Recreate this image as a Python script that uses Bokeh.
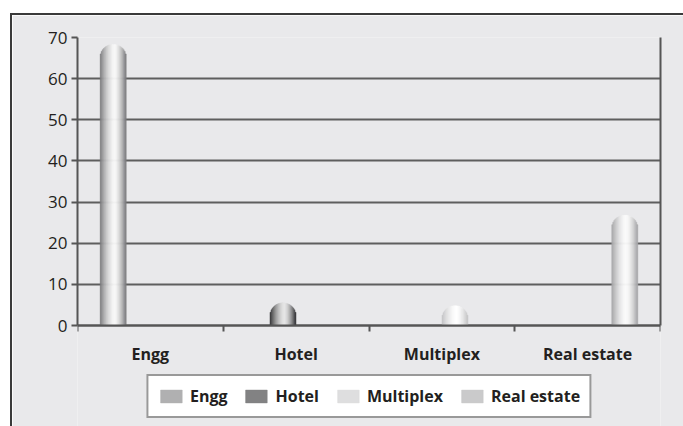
import numpy as np
from bokeh.plotting import figure
from bokeh.models import (ColumnDataSource, Range1d, FixedTicker, LinearAxis,
                          Legend, LegendItem)
from bokeh.embed import file_html
from bokeh.resources import INLINE

# ---------------- data ----------------
categories = ["Engg", "Hotel", "Multiplex", "Real estate"]
series = ["Engg", "Hotel", "Multiplex", "Real estate"]
values = [68.3, 5.5, 4.8, 26.8]          # one value per series, in its own category
y_ticks = [0, 10, 20, 30, 40, 50, 60, 70]

# ---------------- style ----------------
edge_rgb = [(118, 118, 120), (50, 50, 52), (196, 196, 198), (162, 162, 164)]
high_rgb = [(248, 248, 248), (230, 230, 230), (255, 255, 255), (252, 252, 252)]
dodge = [-0.255, -0.09, 0.09, 0.255]
BAR_W = 0.178
N_STRIPES = 26
HIGHLIGHT = 0.56
FRAME_W = 583          # plot-area width (px)
AXIS_H = 288           # height of the 0..70 value area (px)
BELOW_H = 101          # space under the value area that holds labels and legend (px)
Y_MAX = 70
BG = "#e9e9eb"
AXIS_COL = "#555555"
TXT = "#231f20"
FONT = "Open Sans"

px_x = FRAME_W / len(categories)
px_y = AXIS_H / Y_MAX
Y_MIN = -BELOW_H / px_y               # extend frame below zero to host labels + legend
r_y = (BAR_W / 2) * px_x / px_y       # cap radius in y units (round cap)


def shade(j, t):
    h = HIGHLIGHT
    d = (t - h) / (h if t < h else (1 - h))
    f = 1 - abs(d) ** 1.6
    e, hi = edge_rgb[j], high_rgb[j]
    c = [int(round(e[k] + (hi[k] - e[k]) * f)) for k in range(3)]
    return "#%02x%02x%02x" % tuple(c)


xs, tops, cols, legend_idx = [], [], [], []
for j, name in enumerate(series):
    ci = categories.index(name)
    cx = ci + 0.5 + dodge[j]
    v = values[j]
    for k in range(N_STRIPES):
        t = (k + 0.5) / N_STRIPES
        dx = 2 * t - 1
        if k == int(N_STRIPES * 0.18):
            legend_idx.append(len(xs))
        xs.append(cx + (t - 0.5) * BAR_W)
        tops.append(v - r_y + r_y * np.sqrt(max(0.0, 1 - dx * dx)))
        cols.append(shade(j, t))

src = ColumnDataSource(dict(x=xs, top=tops, color=cols))

p = figure(frame_width=FRAME_W, frame_height=AXIS_H + BELOW_H,
           x_range=Range1d(0, len(categories)), y_range=Range1d(Y_MIN, Y_MAX),
           output_backend="svg", toolbar_location=None,
           min_border_left=65, min_border_right=23, min_border_top=22,
           min_border_bottom=0, margin=(13, 0, 0, 10),
           styles={"border-top": "2px solid #3a3a3a", "border-left": "2px solid #3a3a3a"})
p.background_fill_color = BG
p.border_fill_color = BG
p.outline_line_color = None

r = p.vbar(x="x", top="top", bottom=0, width=BAR_W / N_STRIPES * 1.05, source=src,
           fill_color="color", line_color="color", line_width=0.5)

# y axis
p.yaxis.ticker = FixedTicker(ticks=y_ticks)
p.yaxis.bounds = (0, Y_MAX)
p.yaxis.major_tick_out = 6
p.yaxis.major_tick_in = 0
p.yaxis.minor_tick_out = 0
p.yaxis.axis_line_color = AXIS_COL
p.yaxis.axis_line_width = 2
p.yaxis.major_tick_line_color = AXIS_COL
p.yaxis.major_tick_line_width = 2
p.yaxis.major_label_text_font = FONT
p.yaxis.major_label_text_font_size = "17px"
p.yaxis.major_label_text_color = TXT
p.yaxis.major_label_standoff = 4

# grid
p.xgrid.visible = False
p.ygrid.ticker = FixedTicker(ticks=y_ticks[:-1])
p.ygrid.grid_line_color = "#5e5e5e"
p.ygrid.grid_line_width = 2

# x axis at y=0: boundary ticks as minor ticks, labels at category centres
centres = [i + 0.5 for i in range(len(categories))]
p.xaxis.fixed_location = 0
p.xaxis.ticker = FixedTicker(ticks=centres, minor_ticks=list(range(len(categories) + 1)))
p.xaxis.major_label_overrides = {c: n for c, n in zip(centres, categories)}
p.xaxis.major_tick_out = 0
p.xaxis.major_tick_in = 0
p.xaxis.minor_tick_out = 6
p.xaxis.minor_tick_in = 0
p.xaxis.minor_tick_line_color = AXIS_COL
p.xaxis.minor_tick_line_width = 2
p.xaxis.axis_line_color = AXIS_COL
p.xaxis.axis_line_width = 2
p.xaxis.major_label_text_font = FONT
p.xaxis.major_label_text_font_style = "bold"
p.xaxis.major_label_text_font_size = "16px"
p.xaxis.major_label_text_color = TXT
p.xaxis.major_label_standoff = 11

# right frame line
ra = LinearAxis(ticker=FixedTicker(ticks=[]), axis_line_color=AXIS_COL, axis_line_width=2,
                major_label_text_font_size="0px", major_tick_out=0, minor_tick_out=0,
                bounds=(0, Y_MAX))
p.add_layout(ra, "right")

# legend
items = [LegendItem(label=n, renderers=[r], index=legend_idx[j]) for j, n in enumerate(series)]
leg = Legend(items=items, orientation="horizontal", location="bottom_center")
leg.background_fill_color = "white"
leg.background_fill_alpha = 1
leg.border_line_color = "#333333"
leg.border_line_width = 2
leg.label_text_font = FONT
leg.label_text_font_style = "bold"
leg.label_text_font_size = "16px"
leg.label_text_color = TXT
leg.glyph_width = 27
leg.glyph_height = 16
leg.label_standoff = 6
leg.spacing = 15
leg.padding = 9
leg.margin = 8
p.add_layout(leg, "center")

open("out.html", "w").write(file_html(p, INLINE))
